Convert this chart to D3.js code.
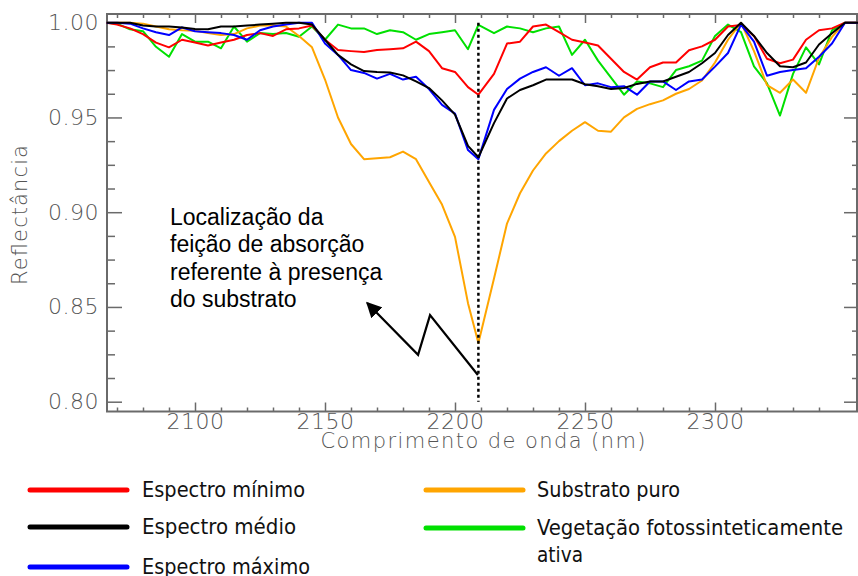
<!DOCTYPE html>
<html>
<head>
<meta charset="utf-8">
<script src="https://cdn.jsdelivr.net/npm/d3@7"></script>
<style>
  body { margin: 0; background: #fff; }
  svg { display: block; }
</style>
</head>
<body>
<svg></svg>
<script>
let width = 858, height = 576;

// wavelengths (nm)
let wl = [2066, 2070, 2075, 2080, 2085, 2090, 2095, 2100, 2105, 2110, 2115, 2120, 2125, 2130, 2135, 2140,
  2145, 2150, 2155, 2160, 2165, 2170, 2175, 2180, 2185, 2190, 2195, 2200, 2205, 2209, 2215, 2220,
  2225, 2230, 2235, 2240, 2245, 2250, 2255, 2260, 2265, 2270, 2275, 2280, 2285, 2290, 2295, 2300,
  2305, 2310, 2315, 2320, 2325, 2330, 2335, 2340, 2345, 2350, 2355];

let espectroMinimo = [1.000, 0.999, 0.997, 0.994, 0.9895, 0.987, 0.991, 0.9895, 0.988, 0.9895, 0.991, 0.9935, 0.9945, 0.993, 0.9965, 0.997,
  0.9985, 0.991, 0.9856, 0.985, 0.9845, 0.9856, 0.986, 0.9865, 0.990, 0.985, 0.976, 0.974, 0.966, 0.962, 0.973, 0.989,
  0.990, 0.998, 0.999, 0.995, 0.991, 0.9895, 0.988, 0.981, 0.974, 0.970, 0.9765, 0.979, 0.979, 0.9855, 0.9875, 0.991,
  0.998, 0.9988, 0.993, 0.981, 0.9786, 0.9805, 0.991, 0.996, 0.997, 1.000, 1.000];

let espectroMedio = [1.000, 1.000, 1.000, 0.9985, 0.998, 0.998, 0.9975, 0.9967, 0.9965, 0.998, 0.998, 0.9985, 0.999, 0.9995, 1.000, 1.000,
  0.999, 0.991, 0.983, 0.978, 0.9745, 0.974, 0.9737, 0.9722, 0.969, 0.9655, 0.959, 0.9515, 0.935, 0.929, 0.947, 0.960,
  0.9645, 0.967, 0.970, 0.970, 0.970, 0.9675, 0.9665, 0.965, 0.9655, 0.9677, 0.969, 0.969, 0.9715, 0.974, 0.9786, 0.984,
  0.9935, 1.000, 0.993, 0.984, 0.977, 0.9765, 0.979, 0.9885, 0.9944, 1.000, 1.000];

let espectroMaximo = [1.000, 1.000, 0.9995, 0.997, 0.995, 0.9935, 0.9975, 0.9955, 0.995, 0.9945, 0.9935, 0.991, 0.996, 0.998, 0.999, 1.000,
  1.000, 0.989, 0.983, 0.975, 0.9735, 0.9705, 0.973, 0.970, 0.9715, 0.965, 0.9566, 0.952, 0.9328, 0.928, 0.954, 0.965,
  0.9705, 0.974, 0.9765, 0.972, 0.976, 0.967, 0.968, 0.966, 0.9665, 0.962, 0.969, 0.969, 0.9645, 0.969, 0.970, 0.9768,
  0.984, 0.999, 0.990, 0.972, 0.974, 0.975, 0.976, 0.982, 0.989, 1.000, 1.000];

let substratoPuro = [1.000, 1.000, 1.000, 0.9995, 0.998, 0.9965, 0.996, 0.9958, 0.9945, 0.9935, 0.994, 0.997, 0.9985, 0.9985, 0.998, 0.993,
  0.987, 0.970, 0.950, 0.936, 0.928, 0.9285, 0.929, 0.932, 0.928, 0.916, 0.904, 0.887, 0.852, 0.831, 0.865, 0.894,
  0.910, 0.922, 0.931, 0.9375, 0.943, 0.9475, 0.943, 0.9425, 0.950, 0.9545, 0.957, 0.959, 0.9625, 0.965, 0.9695, 0.979,
  0.991, 1.000, 0.985, 0.967, 0.963, 0.970, 0.963, 0.9815, 0.9925, 1.000, 1.000];

let vegetacao = [1.000, 0.9995, 0.9965, 0.9955, 0.9873, 0.982, 0.994, 0.990, 0.990, 0.9865, 0.998, 0.990, 0.9945, 0.994, 0.9946, 0.9926,
  0.998, 0.991, 0.999, 0.997, 0.997, 0.994, 0.996, 0.995, 0.991, 0.994, 0.995, 0.996, 0.986, 0.9988, 0.9945, 0.998,
  0.997, 0.995, 0.997, 0.998, 0.983, 0.991, 0.980, 0.971, 0.962, 0.969, 0.968, 0.966, 0.975, 0.977, 0.980, 0.993,
  0.999, 0.995, 0.977, 0.968, 0.951, 0.973, 0.987, 0.978, 0.996, 1.000, 1.000];

let seriesNames = ["Espectro mínimo", "Espectro médio", "Espectro máximo", "Substrato puro", "Vegetação fotossinteticamente ativa"];
let seriesColors = ["#ff0000", "#000000", "#0000ff", "#ffa500", "#00e000"];

let xTicks = [2100, 2150, 2200, 2250, 2300];
let yTicks = [0.80, 0.85, 0.90, 0.95, 1.00];

let featureNm = 2209; // absorption feature position
let annotationLines = ["Localização da", "feição de absorção", "referente à presença", "do substrato"];
// zig-zag arrow, in data units (nm, reflectance)
let arrowPath = [[2208.8, 0.8141], [2190.4, 0.8457], [2185.8, 0.8247], [2166.2, 0.8521]];

let svg = d3.select("svg")
    .attr("width", width)
    .attr("height", height);

let frame = {left: 107, right: 857, top: 14, bottom: 411.5};

let x = d3.scaleLinear().domain([2100, 2300]).range([195, 715]);
let y = d3.scaleLinear().domain([0.80, 1.00]).range([401.7, 22.7]);

let axisColor = "#6a6a6a";
let tickFont = "DejaVu Sans";

svg.append("defs").append("marker")
    .attr("id", "head")
    .attr("viewBox", "0 0 10 10")
    .attr("refX", 9).attr("refY", 5)
    .attr("markerWidth", 7).attr("markerHeight", 7)
    .attr("markerUnits", "strokeWidth")
    .attr("orient", "auto")
  .append("path")
    .attr("d", "M0,0 L10,5 L0,10 z")
    .attr("fill", "#000");

// axes (ticks point inward, IDL style)
let xMinor = d3.range(2070, 2360, 10).filter(v => v % 50 != 0);
let yMinor = d3.range(0.8125, 1.0, 0.0125).filter(v => Math.abs(v * 20 - Math.round(v * 20)) > 1e-6);

function styleAxis(g) {
  g.select(".domain").remove();
  g.selectAll("line").attr("stroke", axisColor).attr("stroke-width", 1.5);
  g.selectAll("text")
    .attr("fill", "#555")
    .attr("font-family", tickFont)
    .attr("font-weight", 200)
    .attr("font-size", 22)
    .attr("letter-spacing", 0.5);
}

// bottom
svg.append("g").attr("transform", `translate(0,${frame.bottom})`)
    .call(d3.axisBottom(x).tickValues(xTicks).tickSize(-9).tickPadding(2).tickFormat(d3.format("d")))
    .call(styleAxis);
svg.append("g").attr("transform", `translate(0,${frame.bottom})`)
    .call(d3.axisBottom(x).tickValues(xMinor).tickSize(-4).tickFormat(""))
    .call(styleAxis);
// top
svg.append("g").attr("transform", `translate(0,${frame.top})`)
    .call(d3.axisTop(x).tickValues(xTicks).tickSize(-9).tickFormat(""))
    .call(styleAxis);
svg.append("g").attr("transform", `translate(0,${frame.top})`)
    .call(d3.axisTop(x).tickValues(xMinor).tickSize(-4).tickFormat(""))
    .call(styleAxis);
// left
svg.append("g").attr("transform", `translate(${frame.left},0)`)
    .call(d3.axisLeft(y).tickValues(yTicks).tickSize(-15).tickPadding(8).tickFormat(d3.format(".2f")))
    .call(styleAxis);
svg.append("g").attr("transform", `translate(${frame.left},0)`)
    .call(d3.axisLeft(y).tickValues(yMinor).tickSize(-8).tickFormat(""))
    .call(styleAxis);
// right
svg.append("g").attr("transform", `translate(${frame.right},0)`)
    .call(d3.axisRight(y).tickValues(yTicks).tickSize(-13).tickFormat(""))
    .call(styleAxis);
svg.append("g").attr("transform", `translate(${frame.right},0)`)
    .call(d3.axisRight(y).tickValues(yMinor).tickSize(-5).tickFormat(""))
    .call(styleAxis);

// frame
svg.append("rect")
    .attr("x", frame.left).attr("y", frame.top)
    .attr("width", frame.right - frame.left).attr("height", frame.bottom - frame.top)
    .attr("fill", "none")
    .attr("stroke", axisColor)
    .attr("stroke-width", 2);

// axis titles
svg.append("text")
    .attr("x", 483).attr("y", 448)
    .attr("text-anchor", "middle")
    .attr("font-family", tickFont).attr("font-weight", 200)
    .attr("font-size", 21).attr("fill", "#555")
    .attr("textLength", 325).attr("lengthAdjust", "spacing")
    .text("Comprimento de onda (nm)");

svg.append("text")
    .attr("transform", "translate(27,215) rotate(-90)")
    .attr("text-anchor", "middle")
    .attr("font-family", tickFont).attr("font-weight", 200)
    .attr("font-size", 21).attr("fill", "#555")
    .attr("textLength", 140).attr("lengthAdjust", "spacing")
    .text("Reflectância");

// spectra
let allSeries = [espectroMinimo, espectroMedio, espectroMaximo, substratoPuro, vegetacao];
let drawOrder = [4, 3, 0, 2, 1];

let line = d3.line()
    .x((d, i) => x(wl[i]))
    .y(d => y(d));

svg.append("g")
    .selectAll("path")
    .data(drawOrder)
    .enter()
    .append("path")
    .attr("d", k => line(allSeries[k]))
    .attr("fill", "none")
    .attr("stroke", k => seriesColors[k])
    .attr("stroke-width", 2)
    .attr("stroke-linejoin", "round");

// dotted marker of the feature
svg.append("line")
    .attr("x1", x(featureNm)).attr("x2", x(featureNm))
    .attr("y1", y(1.0)).attr("y2", y(0.80))
    .attr("stroke", "#000")
    .attr("stroke-width", 2.5)
    .attr("stroke-dasharray", "3,3");

// annotation
svg.append("text")
    .attr("font-family", "Liberation Sans, Arial, sans-serif")
    .attr("font-size", 23)
    .attr("fill", "#000")
    .selectAll("tspan")
    .data(annotationLines)
    .enter()
    .append("tspan")
    .attr("x", 170)
    .attr("y", (d, i) => 225 + i * 27.3)
    .text(d => d);

svg.append("path")
    .attr("d", d3.line().x(d => x(d[0])).y(d => y(d[1]))(arrowPath))
    .attr("fill", "none")
    .attr("stroke", "#000")
    .attr("stroke-width", 2.2)
    .attr("marker-end", "url(#head)");

// legend
let legendItems = [
  {k: 0, lx: 30, ly: 490, tx: 142, lines: ["Espectro mínimo"], tl: [163]},
  {k: 1, lx: 30, ly: 527, tx: 142, lines: ["Espectro médio"], tl: [154]},
  {k: 2, lx: 30, ly: 567, tx: 142, lines: ["Espectro máximo"], tl: [168]},
  {k: 3, lx: 426, ly: 490, tx: 537, lines: ["Substrato puro"], tl: [143]},
  {k: 4, lx: 426, ly: 528, tx: 537, lines: ["Vegetação fotossinteticamente", "ativa"], tl: [306, 46]}
];

let leg = svg.append("g")
    .selectAll("g")
    .data(legendItems)
    .enter()
    .append("g");

leg.append("line")
    .attr("x1", d => d.lx).attr("x2", d => d.lx + 97)
    .attr("y1", d => d.ly).attr("y2", d => d.ly)
    .attr("stroke", d => seriesColors[d.k])
    .attr("stroke-width", 5)
    .attr("stroke-linecap", "round");

leg.each(function(d) {
  d3.select(this).selectAll("text")
    .data(d.lines)
    .enter()
    .append("text")
    .attr("x", d.tx)
    .attr("y", (t, i) => d.ly + 7 + i * 27)
    .attr("font-family", "Liberation Sans Narrow, DejaVu Sans Condensed, sans-serif")
    .attr("font-size", 21)
    .attr("fill", "#111")
    .attr("textLength", (t, i) => d.tl[i])
    .attr("lengthAdjust", "spacingAndGlyphs")
    .text(t => t);
});
</script>
</body>
</html>
